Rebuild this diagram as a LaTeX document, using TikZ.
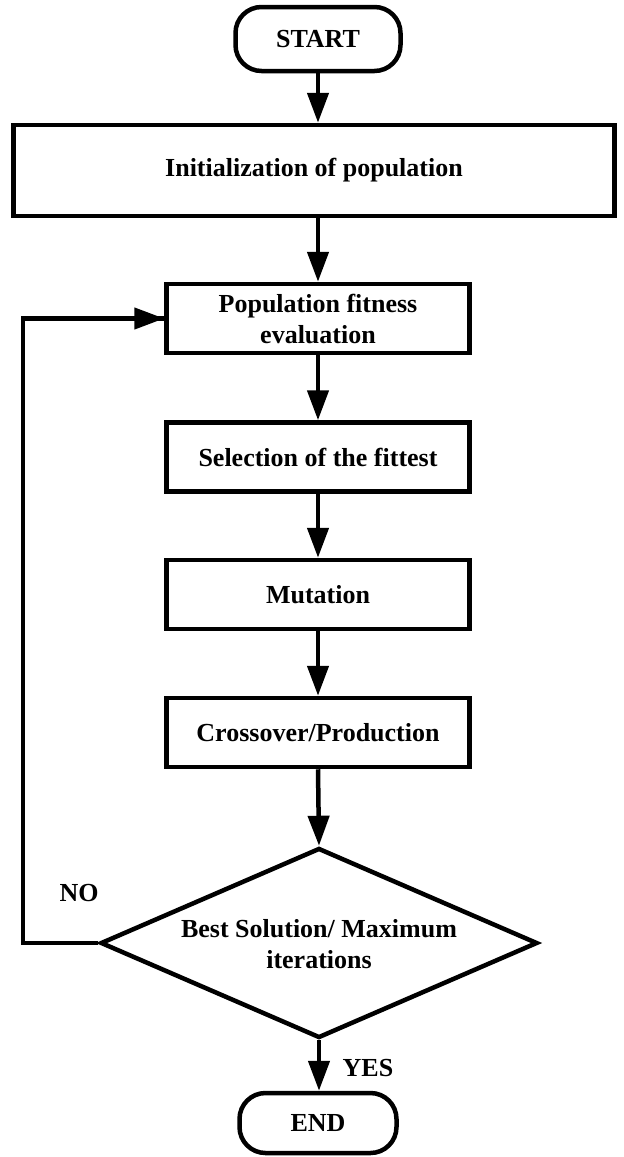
\documentclass[tikz,border=0pt]{standalone}
\usepackage{fontspec}
\setmainfont{Liberation Serif}
\usetikzlibrary{arrows.meta,shapes.geometric}
\begin{document}
\begin{tikzpicture}[x=1pt,y=-1pt,
  every node/.style={font=\fontsize{26}{31}\selectfont\bfseries},
  proc/.style={draw,line width=4.5pt,rectangle,minimum width=303pt,minimum height=69pt,inner sep=0pt,align=center},
  term/.style={draw,line width=4.5pt,rectangle,rounded corners=26pt,minimum width=165pt,minimum height=64pt,inner sep=0pt},
  decision/.style={draw,line width=4.5pt,diamond,minimum width=437pt,minimum height=190pt,inner sep=0pt},
  flow/.style={line width=4.5pt,-{Triangle[length=30pt,width=21pt]}},
  loopline/.style={line width=4.5pt,line join=miter},
  tag/.style={inner sep=0pt}
]
\useasboundingbox (0,0) rectangle (624,1157);
\fill[white] (0,0) rectangle (624,1157);

% process chain
\node[term] (start) at (318,39) {START};
\node[proc,minimum width=601pt,minimum height=91pt] (init) at (314,170.5) {Initialization of population};
\node[proc] (pop) at (318,318.5) {Population fitness\\evaluation};
\node[proc] (sel) at (318,457) {Selection of the fittest};
\node[proc] (mut) at (318,594.5) {Mutation};
\node[proc] (cross) at (318,732.5) {Crossover/Production};
\node[decision] (dec) at (319,943) {};
\node[tag,align=center] (dtext) at (319,944) {Best Solution/ Maximum\\iterations};
\node[term,minimum width=157pt,minimum height=60pt] (end) at (318,1123) {END};

% branch labels
\node[tag] (no) at (79,893) {NO};
\node[tag] (yes) at (368,1068) {YES};

% connectors
\draw[flow] (start.south) -- (start.south |- init.north);
\draw[flow] (init.south -| pop.north) -- (pop.north);
\draw[flow] (pop.south) -- (sel.north);
\draw[flow] (sel.south) -- (mut.north);
\draw[flow] (mut.south) -- (cross.north);
\draw[flow] (cross.south) -- (dec.north);
\draw[flow] (dec.south) -- (dec.south |- end.north);
\coordinate (back) at (23,943);
\draw[loopline] (dec.west) -- (back) |- (pop.west);
\draw[flow] (back |- pop.west) -- (pop.west);
\end{tikzpicture}
\end{document}
